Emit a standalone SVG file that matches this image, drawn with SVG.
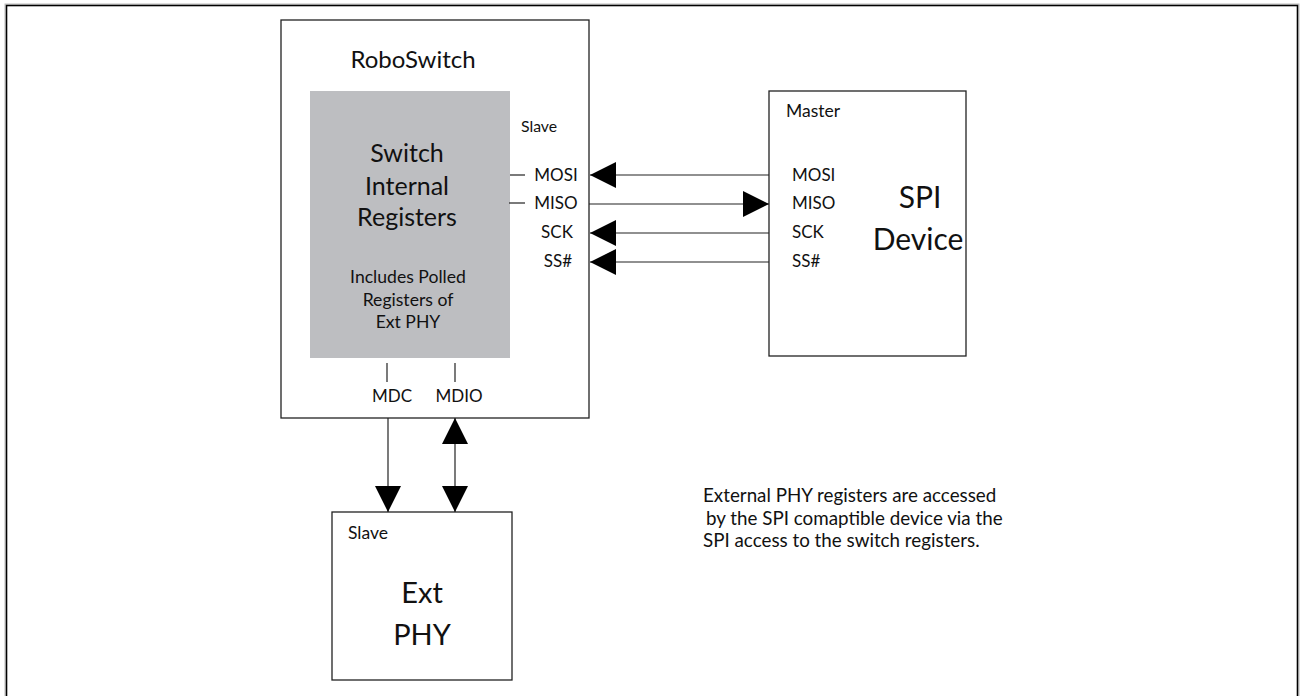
<svg xmlns="http://www.w3.org/2000/svg" width="1301" height="696" viewBox="0 0 1301 696">
<defs>
<style>
.t{font-family:Lato,"Liberation Sans",sans-serif;fill:#111}
.box{fill:#fff;stroke:#222;stroke-width:1.3}
.ln{stroke:#222;stroke-width:1.2;fill:none}
.pin{font-size:17px}
</style>
<marker id="ah" viewBox="0 0 26 26" refX="26" refY="13" markerWidth="26" markerHeight="26" markerUnits="userSpaceOnUse" orient="auto-start-reverse">
<path d="M0,0 L26,13 L0,26 Z" fill="#000"/>
</marker>
</defs>
<rect width="1301" height="696" fill="#fff"/>
<rect x="5" y="4" width="1294" height="720" fill="none" stroke="#bbb" stroke-width="1"/>
<rect x="6.5" y="5.5" width="1291" height="720" fill="none" stroke="#000" stroke-width="1.6"/>
<g id="roboswitch">
<rect class="box" x="281" y="20" width="308" height="398"/>
<text class="t" x="413" y="68" font-size="24" text-anchor="middle">RoboSwitch</text>
<rect x="310" y="91" width="200" height="267" fill="#bdbec1"/>
<text class="t" x="407" y="162" font-size="25" text-anchor="middle">Switch</text>
<text class="t" x="407" y="195" font-size="25" text-anchor="middle">Internal</text>
<text class="t" x="407" y="226" font-size="25" text-anchor="middle">Registers</text>
<text class="t" x="408" y="283" font-size="17.6" text-anchor="middle">Includes Polled</text>
<text class="t" x="408" y="306" font-size="17.6" text-anchor="middle">Registers of</text>
<text class="t" x="408" y="328" font-size="17.6" text-anchor="middle">Ext PHY</text>
<text class="t" x="521" y="132" font-size="15.8">Slave</text>
<text class="t pin" x="556" y="181" text-anchor="middle">MOSI</text>
<text class="t pin" x="556" y="209" text-anchor="middle">MISO</text>
<text class="t pin" x="557" y="238" text-anchor="middle">SCK</text>
<text class="t pin" x="558" y="267" text-anchor="middle">SS#</text>
<line class="ln" x1="510" y1="175" x2="525" y2="175"/>
<line class="ln" x1="509" y1="203" x2="525" y2="203"/>
<line class="ln" x1="387" y1="363" x2="387" y2="382"/>
<line class="ln" x1="455" y1="363" x2="455" y2="382"/>
<text class="t pin" x="392" y="402" text-anchor="middle">MDC</text>
<text class="t pin" x="459" y="402" text-anchor="middle">MDIO</text>
</g>
<g id="spi-device">
<rect class="box" x="769" y="91" width="197" height="265"/>
<text class="t" x="786" y="117" font-size="17.5">Master</text>
<text class="t pin" x="792" y="181">MOSI</text>
<text class="t pin" x="792" y="209">MISO</text>
<text class="t pin" x="792" y="238">SCK</text>
<text class="t pin" x="792" y="267">SS#</text>
<text class="t" x="920" y="208" font-size="30" text-anchor="middle">SPI</text>
<text class="t" x="918" y="250" font-size="30" text-anchor="middle">Device</text>
</g>
<g id="ext-phy">
<rect class="box" x="332" y="512" width="180" height="168"/>
<text class="t" x="348" y="539" font-size="17.5">Slave</text>
<text class="t" x="422" y="603" font-size="29" text-anchor="middle">Ext</text>
<text class="t" x="422" y="645" font-size="29" text-anchor="middle">PHY</text>
</g>
<g id="note">
<text class="t" x="703" y="502" font-size="18.8">External PHY registers are accessed</text>
<text class="t" x="706" y="525" font-size="18.8">by the SPI comaptible device via the</text>
<text class="t" x="703" y="547" font-size="18.8">SPI access to the switch registers.</text>
</g>
<g id="connectors">
<line class="ln" x1="769" y1="175" x2="590" y2="175" marker-end="url(#ah)"/>
<line class="ln" x1="589" y1="204" x2="769" y2="204" marker-end="url(#ah)"/>
<line class="ln" x1="769" y1="233" x2="590" y2="233" marker-end="url(#ah)"/>
<line class="ln" x1="769" y1="262" x2="590" y2="262" marker-end="url(#ah)"/>
<line class="ln" x1="388" y1="418" x2="388" y2="512" marker-end="url(#ah)"/>
<line class="ln" x1="455" y1="418" x2="455" y2="512" marker-start="url(#ah)" marker-end="url(#ah)"/>
</g>
</svg>
